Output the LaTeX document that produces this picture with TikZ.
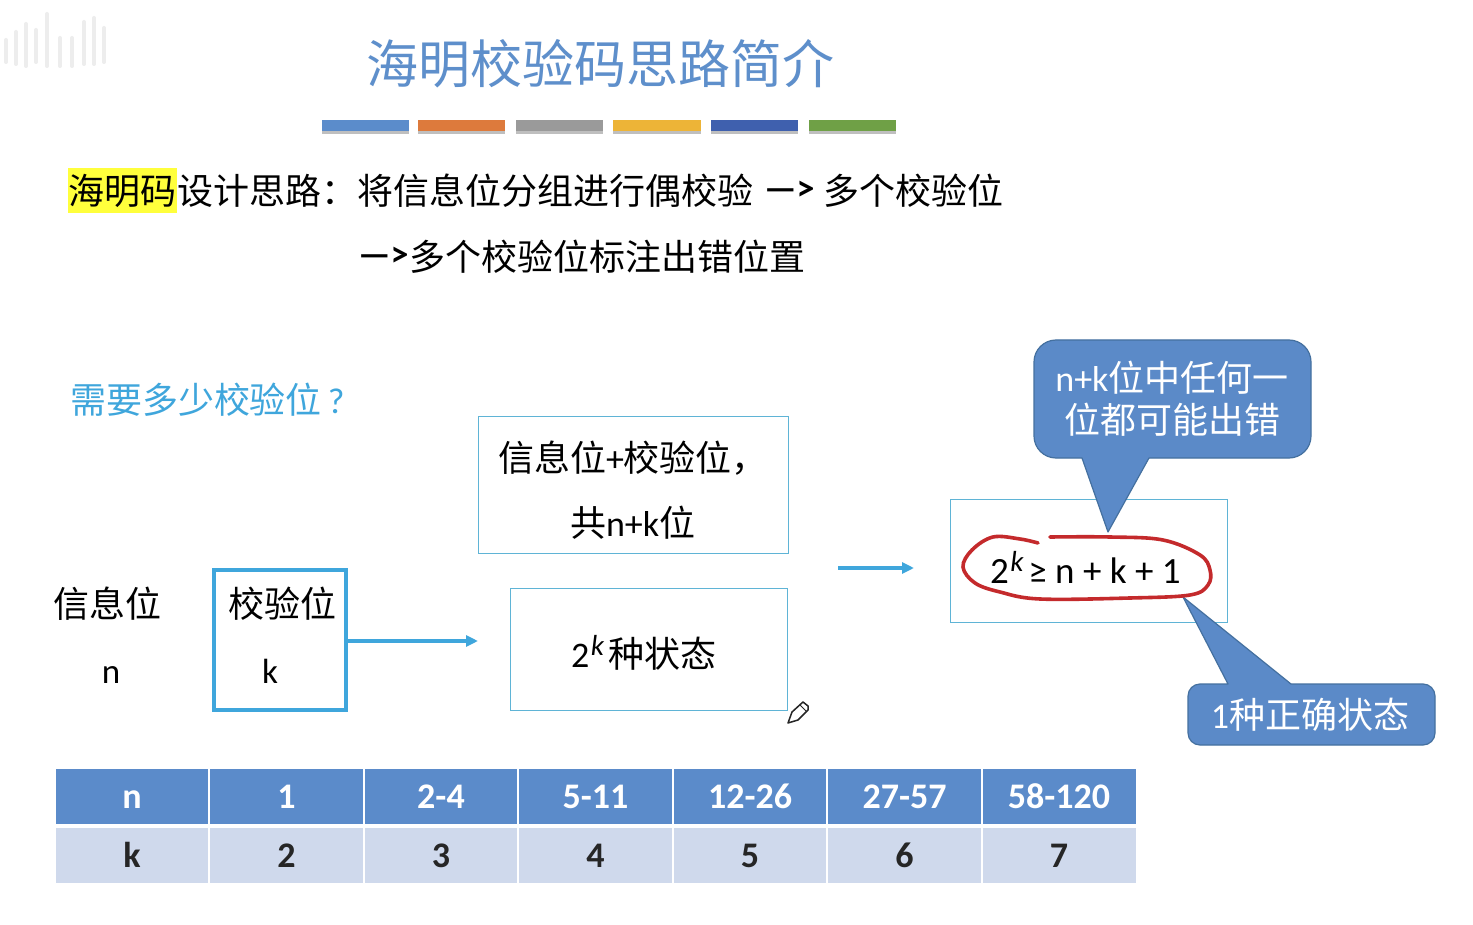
\documentclass[tikz,border=0pt]{standalone}
\usepackage{fontspec}
\setmainfont{Carlito}
\newfontfamily\cjk{Noto Sans CJK SC}
\usetikzlibrary{arrows.meta}
\definecolor{titleblue}{HTML}{5E8FCB}
\definecolor{skyb}{HTML}{3FA6DC}
\definecolor{thinb}{HTML}{5FB4D6}
\definecolor{callfill}{HTML}{5B8AC8}
\definecolor{callline}{HTML}{44709F}
\definecolor{headfill}{HTML}{5B8BCA}
\definecolor{rowfill}{HTML}{CFD9EC}
\definecolor{redpen}{HTML}{C42A2C}
\definecolor{hilite}{HTML}{FFFF3C}
\newcommand{\zh}[1]{{\cjk #1}}
\newcommand{\fs}[1]{\fontsize{#1}{#1}\selectfont}
\newcommand{\supk}{\hspace{1.5pt}\raisebox{12pt}{\fs{29}\itshape k}\hspace{5pt}}
\tikzset{
  txt/.style={inner sep=0pt,outer sep=0pt,font=\fs{36}},
  thinbox/.style={draw=thinb,line width=1.4pt,fill=white},
  callout/.style={fill=callfill,draw=callline,line width=1.2pt},
  arrowline/.style={draw=skyb,line width=3.4pt,-{Triangle[length=12pt,width=11pt]}},
  hcell/.style={fill=headfill,text=white,minimum width=153pt,minimum height=55pt,inner sep=0pt,text height=24pt,text depth=0pt,font=\fs{36}\bfseries},
  rcell/.style={fill=rowfill,text=black!85,minimum width=153pt,minimum height=55pt,inner sep=0pt,text height=24pt,text depth=0pt,font=\fs{36}\bfseries},
  barshape/.style={minimum height=11pt,inner sep=0pt},
}
\begin{document}
\begin{tikzpicture}[x=1pt,y=-1pt]
\useasboundingbox (0,0) rectangle (1473,925);
\fill[white] (0,0) rectangle (1473,925);
% faint watermark
\begin{scope}[draw=black!7,line width=4pt,line cap=round]
\foreach \x/\a/\b in {6/40/62,16/32/64,26/24/66,36/30/62,47/14/66,60/38/66,72/38/66,84/22/64,94/18/64,104/28/62}
  \draw (\x,\a) -- (\x,\b);
\end{scope}
% title
\node[txt,font=\fs{52},text=titleblue] (title) at (600,64) {\zh{海明校验码思路简介}};
% bars
\foreach \n/\l/\r/\c in {a/322/409/5B8CCB,b/418/505/DD7A3C,c/516/603/9A9A9A,d/613/701/EDB437,e/711/798/3F60AE,f/809/896/6FA046}{
  \definecolor{barc}{HTML}{\c}
  \fill[black!25] (\l,124) rectangle (\r,134);
  \node[barshape,fill=barc,minimum width={\r pt-\l pt},anchor=north west] (bar\n) at (\l,120) {};
}
% intro
\node[txt,fill=hilite,anchor=west,minimum height=45pt,minimum width=109pt] (hl) at (68,190.5) {\zh{海明码}};
\node[txt,anchor=west] (l1a) at (177,191) {\zh{设计思路：将信息位分组进行偶校验}};
\node[txt,anchor=west] (l1b) at (764,191) {\bfseries —>};
\node[txt,anchor=west] (l1c) at (823,191) {\zh{多个校验位}};
\node[txt,anchor=west] (l2a) at (358,257) {\bfseries —>};
\node[txt,anchor=west] (l2b) at (409,257) {\zh{多个校验位标注出错位置}};
\node[txt,anchor=west,text=skyb] (need) at (70,400) {\zh{需要多少校验位}\,?};
% boxes
\node[thinbox,anchor=north west,minimum width=310pt,minimum height=137pt,inner sep=0pt] (sum) at (478,416) {};
\node[txt,anchor=west] (sum1) at (498,458) {\zh{信息位}+\zh{校验位，}};
\node[txt,anchor=west] (sum2) at (570,523) {\zh{共}n+k\zh{位}};
\node[thinbox,anchor=north west,minimum width=277pt,minimum height=122pt,inner sep=0pt] (states) at (510,588) {};
\node[txt,anchor=base west] (statet) at (571,667) {2\supk\zh{种状态}};
\node[txt,anchor=west] (info) at (53,604) {\zh{信息位}};
\node[txt,anchor=base,font=\fs{35}] (infon) at (111,683) {n};
\node[draw=skyb,line width=3.5pt,anchor=north west,minimum width=132pt,minimum height=140pt,inner sep=0pt] (check) at (212.25,568.25) {};
\node[txt,anchor=west] (checkt) at (228,604) {\zh{校验位}};
\node[txt,anchor=base,font=\fs{35}] (checkk) at (270,683) {k};
\coordinate (a1end) at (478,641);
\coordinate (a2start) at (838,568);
\coordinate (a2end) at (914,568);
\draw[arrowline] (check.east |- a1end) -- (a1end);
\draw[arrowline] (a2start) -- (a2end);
\node[thinbox,anchor=north west,minimum width=277pt,minimum height=123pt,inner sep=0pt] (eqbox) at (950,499) {};
% callouts
\coordinate (tip1) at (1108,532);
\coordinate (tip2) at (1183,597);
\draw[callout,line join=round]
  (1082,458) -- (tip1) -- (1149,458)
  [rounded corners=22pt] -- (1311,458) -- (1311,340) -- (1034,340) -- (1034,458) [sharp corners] -- cycle;
\node[txt,text=white] (c1a) at (1172,378) {n+k\zh{位中任何一}};
\node[txt,text=white] (c1b) at (1172,420) {\zh{位都可能出错}};
\draw[callout,line join=round]
  (1228,684) -- (tip2) -- (1291,684)
  [rounded corners=12pt] -- (1435,684) -- (1435,745) -- (1188,745) -- (1188,684) [sharp corners] -- cycle;
\node[txt,text=white] (c2) at (1310,715) {1\zh{种正确状态}};
% equation
\node[txt,anchor=base west,font=\fs{37}] (eq) at (990,583) {2\supk≥ n + k + 1};
\draw[redpen,line width=3.6pt,line cap=round] plot[smooth,tension=0.6] coordinates
 {(1038,543) (1020,539) (993,537) (972,550) (963,567) (975,583) (1000,592) (1040,599) (1130,598) (1190,595) (1208,585) (1210,570) (1200,555) (1163,540) (1110,537) (1050,537)};
% pencil
\draw[black!85,line width=1.5pt,line join=round,fill=white] (788,723) -- (792,712) -- (803,702) -- (808,706) -- (808,710) -- (798,720) -- cycle;
\draw[black!85,line width=1pt] (800,705) -- (806,711);
% table
\foreach \i/\x/\h/\r in {0/132/n/k,1/286.5/1/2,2/441/2-4/3,3/595.5/5-11/4,4/750/12-26/5,5/904.5/27-57/6,6/1059/58-120/7}{
  \node[hcell] (h\i) at (\x,796) {\h};
  \node[rcell] (r\i) at (\x,855.5) {\r};
}
\foreach \x in {209,364,518,673,827,982}
  \fill[white] (\x-1,768) rectangle (\x+1,884);
\end{tikzpicture}
\end{document}
